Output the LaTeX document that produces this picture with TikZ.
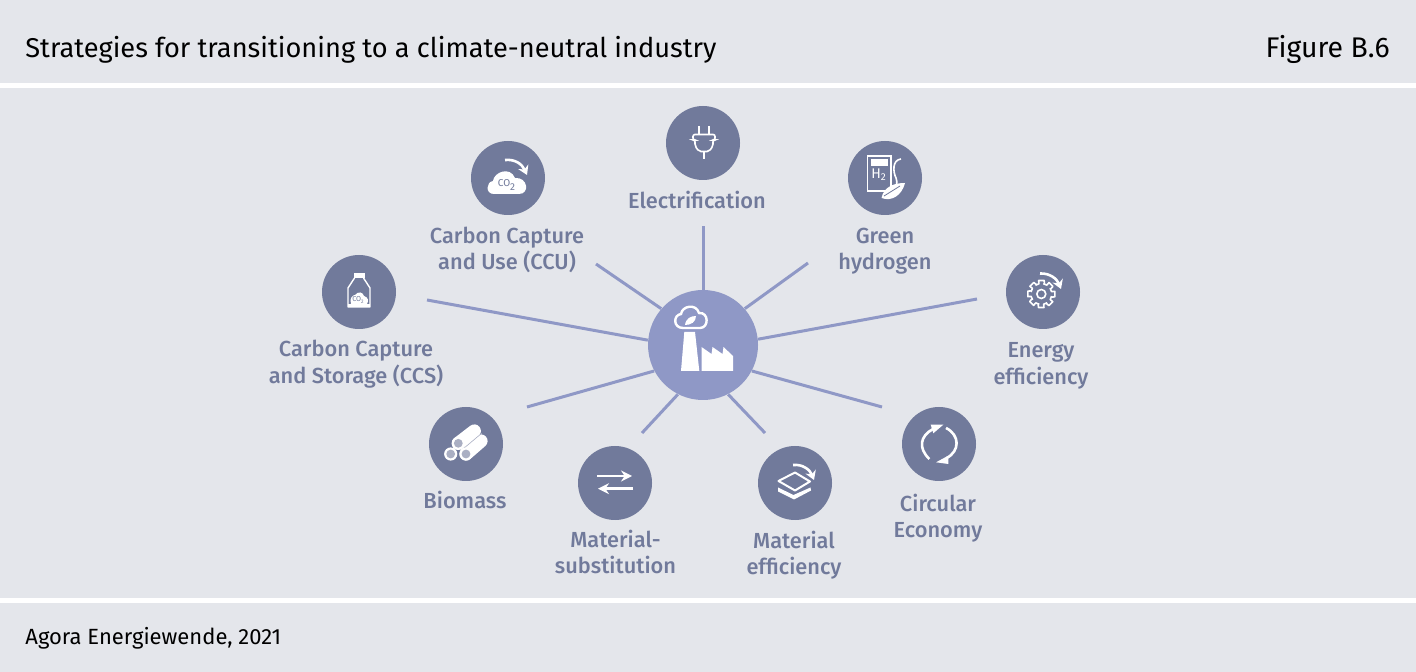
\documentclass[tikz,border=0pt]{standalone}
\usepackage{fontspec}
\setmainfont{Fira Sans}
\newfontfamily\labelfont{Fira Sans Medium}
\usetikzlibrary{arrows.meta}
\definecolor{bandgrey}{HTML}{E4E6EB}
\definecolor{icongrey}{HTML}{717A9B}
\definecolor{hubblue}{HTML}{8F98C6}
\tikzset{
    iconcircle/.style={circle,fill=icongrey,minimum size=37pt,inner sep=0pt},
    hubcircle/.style={circle,fill=hubblue,minimum size=55pt,inner sep=0pt},
    spoke/.style={hubblue,line width=1.5pt},
    strategy/.style={text=icongrey,font=\labelfont\fontsize{10.9}{13.3}\selectfont,align=center,inner sep=0pt},
    headline/.style={anchor=base,inner sep=0pt,font=\fontsize{13.6}{15}\selectfont},
    iconline/.style={white,line width=0.8pt},
    iconarrow/.style={white,line width=1.3pt,-{Stealth[length=4.5pt,width=5.5pt]}},
    tinytext/.style={icongrey,font=\fontsize{3.6}{4}\selectfont,inner sep=0pt}
}
\begin{document}
\begin{tikzpicture}[x=0.5pt,y=-0.5pt]
        \useasboundingbox (0,0) rectangle (1416,672);
        %bands
        \fill[bandgrey] (0,0) rectangle (1416,672);
        \fill[white] (0,83) rectangle (1416,88);
        \fill[white] (0,598) rectangle (1416,603);
        \node[headline,anchor=base west] (title) at (25,57.5) {Strategies for transitioning to a climate-neutral industry};
        \node[headline,anchor=base east,font=\fontsize{14.2}{15}\selectfont] (figno) at (1390,57.5) {Figure B.6};
        \node[anchor=base west,inner sep=0pt,font=\fontsize{11}{12}\selectfont] (source) at (25,644.5) {Agora Energiewende, 2021};
        %spokes
        \node[hubcircle] (hub) at (703,345) {};
        \coordinate (elecend) at (703,226);
        \coordinate (ccuend) at (596,264);
        \coordinate (ccsend) at (427,300);
        \coordinate (bioend) at (527,407);
        \coordinate (substend) at (642,433);
        \coordinate (effend) at (765,433);
        \coordinate (circend) at (882,407);
        \coordinate (energyend) at (977,299);
        \coordinate (hydroend) at (808,263);
        \foreach \e/\a in {elecend/90,ccuend/139,ccsend/175,bioend/208,substend/243,effend/297,circend/-28,energyend/6,hydroend/41}
            \draw[spoke] (hub.\a) -- (\e);
        %circles
        \node[iconcircle] (elec) at (703,143) {};
        \node[iconcircle] (ccu) at (508,178) {};
        \node[iconcircle] (ccs) at (359,292) {};
        \node[iconcircle] (bio) at (466,444) {};
        \node[iconcircle] (subst) at (615,483) {};
        \node[iconcircle] (eff) at (795,483) {};
        \node[iconcircle] (circ) at (939,444) {};
        \node[iconcircle] (energy) at (1043,292) {};
        \node[iconcircle] (hydro) at (885,178) {};
        %labels
        \node[strategy] (eleclabel) at (697,200) {Electrification};
        \node[strategy] (cculabel) at (507,250) {Carbon Capture\\and Use (CCU)};
        \node[strategy] (ccslabel) at (356,364) {Carbon Capture\\and Storage (CCS)};
        \node[strategy] (biolabel) at (465,500) {Biomass};
        \node[strategy] (substlabel) at (615.5,552) {Material-\\substitution};
        \node[strategy] (efflabel) at (794,555) {Material\\efficiency};
        \node[strategy] (circlabel) at (938,518) {Circular\\Economy};
        \node[strategy] (energylabel) at (1041,366) {Energy\\efficiency};
        \node[strategy] (hydrolabel) at (885,251) {Green\\hydrogen};
        %hub icon
        \draw[white,line width=1.2pt] (683,328) .. controls (673,328) and (673,315) .. (681,314) .. controls (682,306) and (696,303) .. (699,313) .. controls (709,312) and (709,328) .. (700,328) -- cycle;
        \fill[white] (685,325) .. controls (686,318) and (691,316) .. (696,316) .. controls (696,322) and (691,325) .. (685,325) -- cycle;
        \fill[white] (684.3,332) -- (695,332) -- (699.3,371) -- (681,371) -- cycle;
        \fill[white] (701.5,371) -- (701.5,347) -- (711.5,354) -- (712.5,347) -- (722.5,354) -- (723.5,347) -- (733,356) -- (733,371) -- cycle;
        %plug
        \draw[iconline] (699,126) -- (699,134) (709,126) -- (709,134);
        \draw[iconline,rounded corners=1pt] (693,134.5) -- (715,134.5) -- (715,140) -- (713,140) -- (713,146) -- (709,151.5) -- (699,151.5) -- (695,146) -- (695,140) -- (693,140) -- cycle;
        \draw[iconline] (704,151.5) -- (704,159);
        %cloud with arrow
        \fill[white] (494,194) .. controls (485,194) and (486,182) .. (493,181) .. controls (494,172) and (510,166) .. (515,178) .. controls (528,177) and (530,194) .. (519,194) -- cycle;
        \node[tinytext,font=\fontsize{5}{6}\selectfont] (ccuco) at (507,185) {CO\textsubscript{2}};
        \draw[iconarrow] (505,160) .. controls (515,159) and (522,164) .. (527,175);
        %bottle
        \fill[white] (353.5,273) rectangle (364.5,278);
        \draw[white,line width=0.7pt,line join=round] (354.5,278) -- (348,288) -- (348,307) -- (370,307) -- (370,288) -- (363.5,278);
        \fill[white] (351,304) .. controls (349,298) and (353,295) .. (355,295) .. controls (358,291) and (363,292) .. (364,296) .. controls (368,297) and (369,301) .. (367,304) -- cycle;
        \fill[white] (348,304.5) rectangle (370,307.5);
        \node[tinytext] (ccsco) at (358.5,300) {CO\textsubscript{2}};
        %logs
        \draw[white,line width=6.6pt,line cap=round] (458.3,443.3) -- (474.3,431);
        \draw[white,line width=6.6pt,line cap=round] (466,454) -- (481,441);
        \draw[icongrey!60!white,line width=0.3pt] (463,449) -- (482,433);
        \foreach \lx/\ly in {458.3/443.3,450.7/454,466/454}{
            \fill[white] (\lx,\ly) circle (6.6);
            \fill[icongrey!60!white] (\lx,\ly) circle (4.4);
        }
        %arrows
        \draw[white,line width=1.3pt,-{Stealth[length=5.5pt,width=5.5pt]}] (597,476) -- (632,476);
        \draw[white,line width=1.3pt,-{Stealth[length=5.5pt,width=5.5pt]}] (633,488.7) -- (598,488.7);
        %layers
        \draw[iconarrow] (793,465) .. controls (803,464) and (810,470) .. (814,480);
        \draw[iconline,line width=1pt,line join=round] (778.5,481) -- (795,472.5) -- (810,481.5) -- (795,490.5) -- cycle;
        \fill[white] (778,487.5) -- (793.5,495) -- (810.5,487.5) -- (811,490.5) -- (794,499.5) -- (778,491.5) -- cycle;
        %circular arrows
        \draw[white,line width=1.3pt] (929.3,459) .. controls (918,448) and (920,436) .. (933,429);
        \fill[white] (943.3,424.7) -- (930.7,424.7) -- (933.3,433.3) -- cycle;
        \draw[white,line width=1.3pt] (946,428) .. controls (960,435) and (960,451) .. (946.7,458);
        \fill[white] (936,462.3) -- (948.3,455.7) -- (948.3,464) -- cycle;
        %gear
        \foreach \a in {0,45,...,315}
            \draw[iconline,line join=round] (1041.3,294) ++(\a-34:10.5) arc[start angle=\a-34,end angle=\a-13,radius=10.5] -- ++(\a-5:3.3) -- ++(\a+90:5.5) -- ++(\a+175:3.3);
        \draw[iconline] (1041.3,294) circle (4.5);
        \draw[iconarrow] (1040,273.5) .. controls (1050,273) and (1057,279) .. (1061,289);
        %hydrogen
        \draw[iconline] (867.5,156) rectangle (891,191);
        \fill[white] (870.7,159.5) rectangle (887.7,166);
        \node[inner sep=0pt,text=white,font=\fontsize{7}{8}\selectfont] (hytext) at (879,175) {H\textsubscript{2}};
        \draw[iconline] (901,159) .. controls (892,160) and (893,172) .. (896,178) .. controls (898,183) and (896,186) .. (895,188);
        \fill[white] (881.5,198) .. controls (884,186) and (895,183) .. (905,183) .. controls (902,195) and (892,202) .. (881.5,198) -- cycle;
        \draw[icongrey,line width=0.4pt] (884,196) -- (900,186);
    \end{tikzpicture}
\end{document}
